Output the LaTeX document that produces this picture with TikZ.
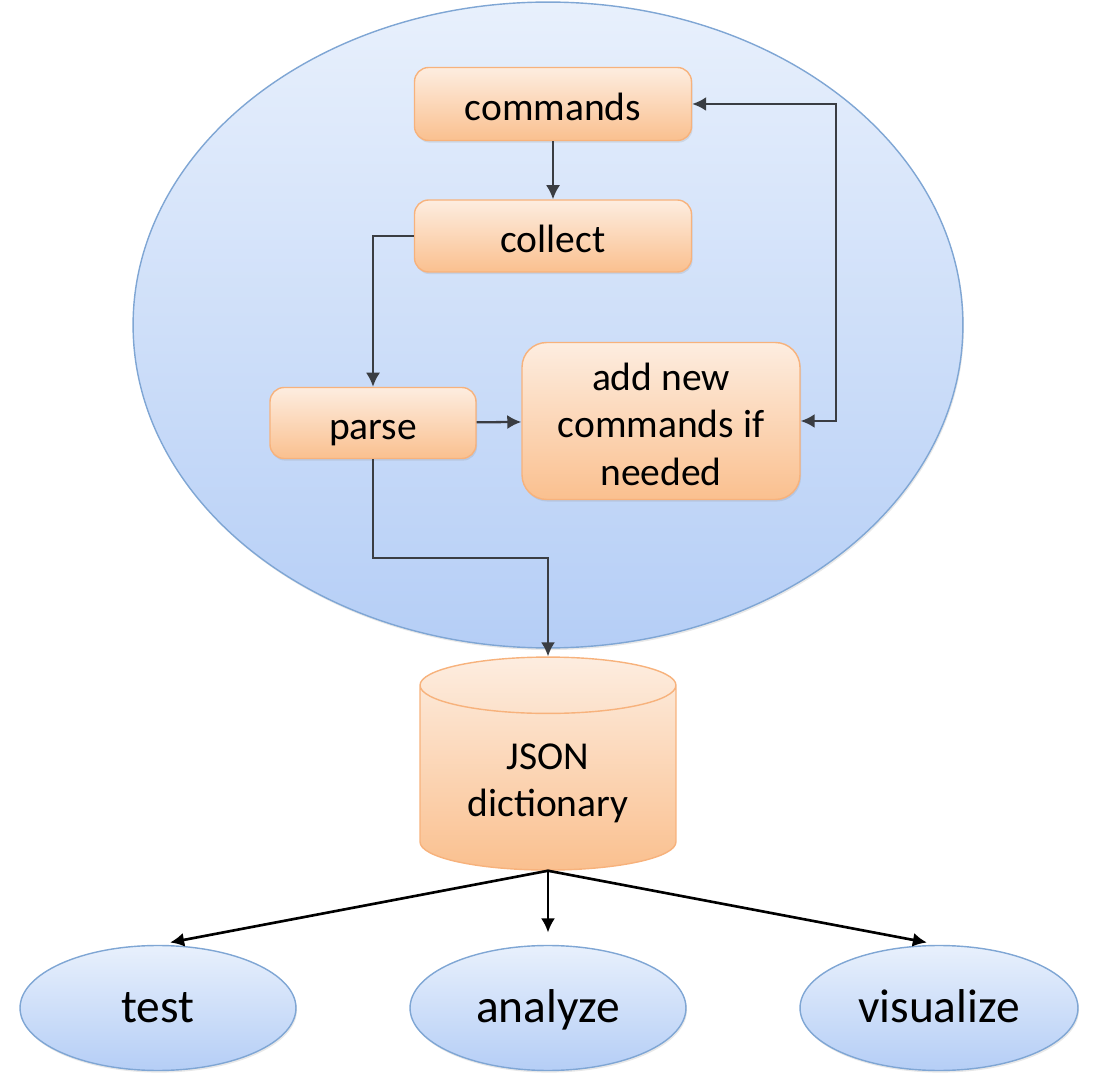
\documentclass[tikz,border=0pt]{standalone}
\usepackage{fontspec}
\setmainfont{Carlito}
\usepackage{tikz}
\usetikzlibrary{shapes}
\usetikzlibrary{shadows}
\usetikzlibrary{arrows.meta}
\tikzset{>={Latex[length=8pt,width=8pt]}}
\definecolor{peachtop}{HTML}{FDEDE0}
\definecolor{peachbot}{HTML}{FAC08F}
\definecolor{peachline}{HTML}{F7B27C}
\definecolor{bubbletop}{HTML}{E8F0FC}
\definecolor{bubblebot}{HTML}{B5CEF6}
\definecolor{bubbleline}{HTML}{7FA6D4}
\definecolor{flowgray}{HTML}{3A3D42}
\tikzstyle{task}=[
  rectangle, rounded corners=8pt, draw=peachline, line width=0.8pt,
  top color=peachtop, bottom color=peachbot, align=center, inner sep=0pt,
  font=\fontsize{22.5}{27}\selectfont, text height=19pt, text depth=0pt,
  drop shadow={opacity=0.18, shadow xshift=0.6pt, shadow yshift=-1.2pt}
]
\tikzstyle{store}=[
  cylinder, shape border rotate=90, aspect=0.35, draw=peachline, line width=0.8pt,
  top color=peachtop, bottom color=peachbot, align=center, inner sep=0pt,
  font=\fontsize{22.5}{27}\selectfont, text height=44pt, text depth=0pt
]
\tikzstyle{usecase}=[
  ellipse, draw=bubbleline, line width=0.8pt, inner sep=0pt,
  top color=bubbletop, bottom color=bubblebot,
  font=\fontsize{27}{32}\selectfont, text height=17pt, text depth=0pt,
  drop shadow={opacity=0.18, shadow xshift=0.6pt, shadow yshift=-1.2pt}
]
\tikzstyle{flow}=[->, draw=flowgray, line width=1.3pt]
\tikzstyle{fanout}=[->, draw=black, line width=1.5pt, shorten >=7pt]

\begin{document}
\begin{tikzpicture}[x=0.02cm,y=-0.02cm]
    \useasboundingbox (0,0) rectangle (1100,1084);

    % the system round the pipeline
    \node[usecase, minimum width=16.6cm, minimum height=12.92cm] (system) at (548,325) {};

    \node[task, minimum width=5.54cm, minimum height=1.46cm] (commands) at (553,104) {commands};
    \node[task, minimum width=5.54cm, minimum height=1.44cm] (collect) at (553,236) {collect};
    \node[task, minimum width=4.12cm, minimum height=1.42cm] (parse) at (373,423) {parse};
    \node[task, minimum width=5.56cm, minimum height=3.14cm, rounded corners=14pt, text height=73pt]
      (addnew) at (661,421) {add new\\commands if\\needed};

    \node[store, minimum width=5.12cm, minimum height=4.26cm] (json) at (548,778) {JSON\\dictionary};

    \node[usecase, minimum width=5.52cm, minimum height=2.5cm] (test) at (158,1008) {test};
    \node[usecase, minimum width=5.52cm, minimum height=2.5cm] (analyze) at (548,1008) {analyze};
    \node[usecase, minimum width=5.56cm, minimum height=2.5cm] (visualize) at (939,1008) {visualize};

    \draw[flow] (commands) -- (collect);
    \draw[flow] (collect.west) -| (parse.north);
    \draw[flow] (parse) -- (addnew);
    \draw[flow, <->] (commands.east) -- ++(144,0) |- (addnew.east); % loop back
    \draw[flow] (parse.south) -- ++(0,99) -| (json.north);

    \draw[fanout] (json.south) -- (test.north);
    \draw[fanout] (json.south) -- (analyze.north);
    \draw[fanout] (json.south) -- (visualize.north);
\end{tikzpicture}
\end{document}
